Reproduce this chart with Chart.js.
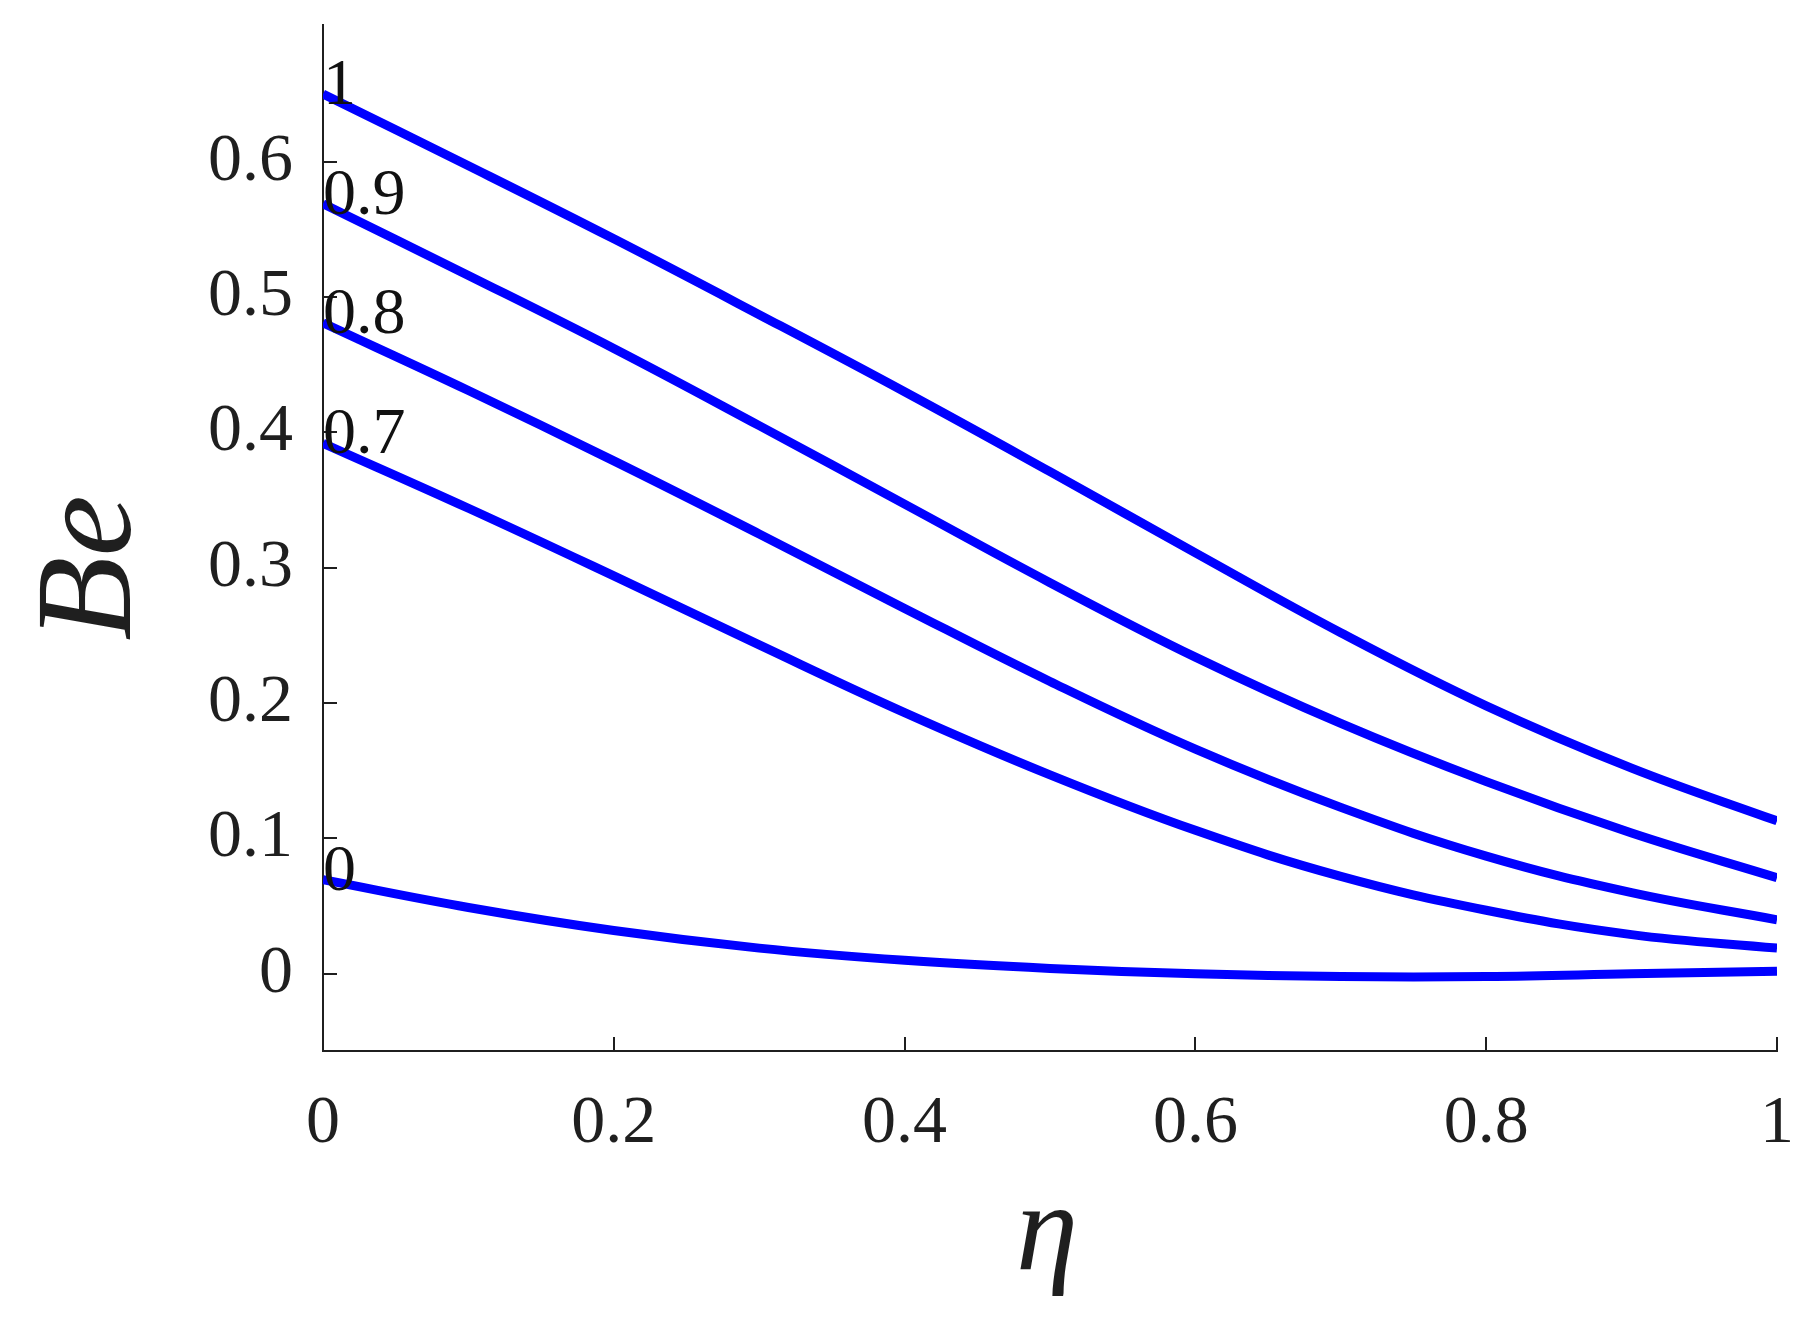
<!DOCTYPE html>
<html>
<head>
<meta charset="utf-8">
<script src="https://cdn.jsdelivr.net/npm/chart.js@4/dist/chart.umd.min.js"></script>
<style>
    body { margin: 0; background: #ffffff; }
    #be-chart { display: block; }
</style>
</head>
<body>
<canvas id="be-chart" width="1811" height="1321"></canvas>
<script>
const etaValues = [0, 0.1, 0.2, 0.3, 0.4, 0.5, 0.6, 0.7, 0.8, 0.9, 1];

const curveLabels = ['1', '0.9', '0.8', '0.7', '0'];
const beCurve1 = [0.650, 0.597, 0.543, 0.487, 0.430, 0.371, 0.311, 0.252, 0.198, 0.152, 0.113];
const beCurve09 = [0.569, 0.516, 0.462, 0.405, 0.347, 0.289, 0.234, 0.185, 0.142, 0.104, 0.071];
const beCurve08 = [0.481, 0.431, 0.379, 0.325, 0.270, 0.216, 0.166, 0.123, 0.087, 0.060, 0.040];
const beCurve07 = [0.392, 0.344, 0.294, 0.243, 0.193, 0.147, 0.106, 0.072, 0.047, 0.029, 0.019];
const beCurve0 = [0.0695, 0.049, 0.032, 0.019, 0.010, 0.004, 0.000, -0.002, -0.002, 0.000, 0.002];

const xTicks = [0, 0.2, 0.4, 0.6, 0.8, 1];
const yTicks = [0, 0.1, 0.2, 0.3, 0.4, 0.5, 0.6];

const axisColor = '#1f1f1f';
const serif = '"Liberation Serif", "DejaVu Serif", serif';

function toPoints(values) {
    return etaValues.map((eta, i) => ({x: eta, y: values[i]}));
}

function tickText(value) {
    return String(Number(value.toFixed(1)));
}

// inward tick marks, curve labels and axis titles
const matlabStyle = {
    id: 'matlabStyle',
    afterDatasetsDraw(chart) {
        const {ctx, scales: {x, y}, chartArea} = chart;
        ctx.save();
        ctx.strokeStyle = axisColor;
        ctx.lineWidth = 2;
        ctx.beginPath();
        xTicks.forEach(v => {
            const px = Math.round(x.getPixelForValue(v));
            ctx.moveTo(px, chartArea.bottom);
            ctx.lineTo(px, chartArea.bottom - 14);
        });
        yTicks.forEach(v => {
            const py = Math.round(y.getPixelForValue(v));
            ctx.moveTo(chartArea.left, py);
            ctx.lineTo(chartArea.left + 14, py);
        });
        ctx.stroke();

        ctx.fillStyle = '#111111';
        ctx.font = '66px ' + serif;
        ctx.textAlign = 'left';
        ctx.textBaseline = 'alphabetic';
        chart.data.datasets.forEach(ds => {
            const first = ds.data[0];
            ctx.fillText(ds.label, x.getPixelForValue(first.x), y.getPixelForValue(first.y) + 10);
        });

        ctx.fillStyle = axisColor;
        ctx.font = 'italic 138px ' + serif;
        ctx.textAlign = 'center';
        ctx.save();
        ctx.translate(130, 568);
        ctx.rotate(-Math.PI / 2);
        ctx.fillText('Be', 0, 0);
        ctx.restore();

        ctx.font = 'italic 125px ' + serif;
        ctx.fillText('η', (chartArea.left + chartArea.right) / 2 - 3, 1269);
        ctx.restore();
    }
};

function makeDataset(label, values) {
    return {
        label: label,
        data: toPoints(values),
        borderColor: '#0000ff',
        borderWidth: 9,
        pointRadius: 0,
        fill: false,
        tension: 0.4
    };
}

const chartConfig = {
    type: 'line',
    data: {
        datasets: [
            makeDataset(curveLabels[0], beCurve1),
            makeDataset(curveLabels[1], beCurve09),
            makeDataset(curveLabels[2], beCurve08),
            makeDataset(curveLabels[3], beCurve07),
            makeDataset(curveLabels[4], beCurve0)
        ]
    },
    options: {
        responsive: false,
        animation: false,
        layout: {
            padding: {top: 25, right: 34, left: 0, bottom: 0}
        },
        plugins: {
            legend: {display: false},
            tooltip: {enabled: false}
        },
        scales: {
            x: {
                type: 'linear',
                min: 0,
                max: 1,
                afterBuildTicks: scale => {
                    scale.ticks = xTicks.map(v => ({value: v}));
                },
                afterFit: scale => {
                    scale.height = 270;
                    scale.paddingLeft = 0;
                    scale.paddingRight = 0;
                },
                grid: {display: false},
                border: {display: true, color: axisColor, width: 2},
                ticks: {
                    color: axisColor,
                    padding: 24,
                    maxRotation: 0,
                    font: {family: serif, size: 68},
                    callback: value => tickText(value)
                }
            },
            y: {
                type: 'linear',
                min: -0.057,
                max: 0.701,
                afterBuildTicks: scale => {
                    scale.ticks = yTicks.map(v => ({value: v}));
                },
                afterFit: scale => {
                    scale.width = 323;
                    scale.paddingTop = 0;
                    scale.paddingBottom = 0;
                },
                grid: {display: false},
                border: {display: true, color: axisColor, width: 2},
                ticks: {
                    color: axisColor,
                    padding: 22,
                    font: {family: serif, size: 68},
                    callback: value => tickText(value)
                }
            }
        }
    },
    plugins: [matlabStyle]
};

const canvas = document.querySelector('#be-chart');
if (canvas) {
    const beChart = new Chart(canvas, chartConfig);
}
</script>
</body>
</html>
